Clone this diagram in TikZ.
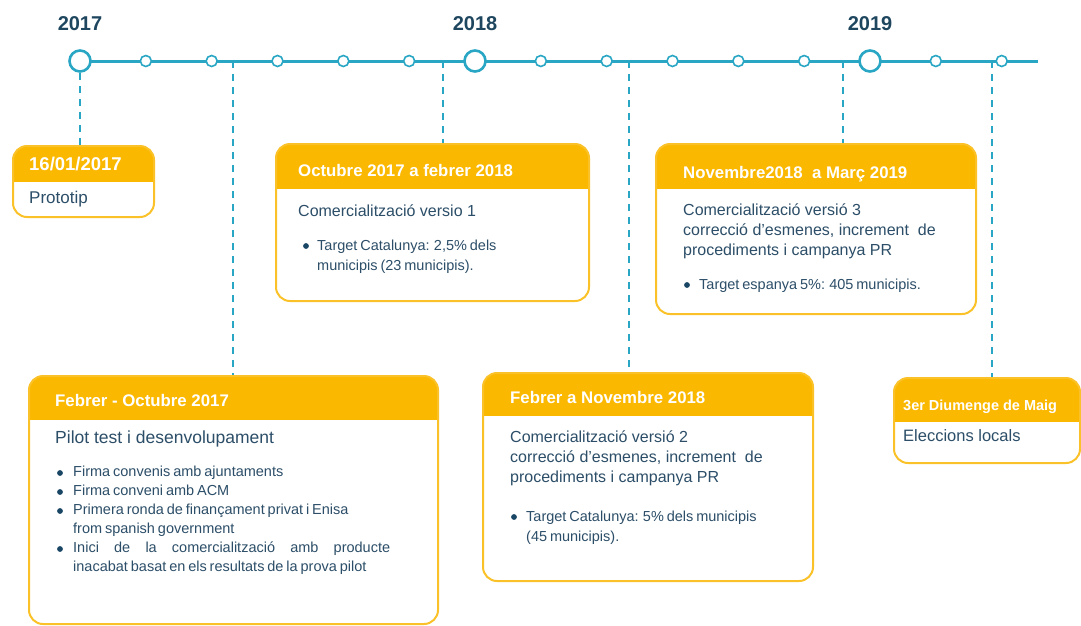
\documentclass[tikz,border=0pt]{standalone}
\usepackage{fontspec}
\setmainfont{Liberation Sans}
\usetikzlibrary{calc}
\definecolor{tlblue}{RGB}{41,166,196}
\definecolor{hdyellow}{RGB}{251,184,0}
\definecolor{bdyellow}{RGB}{250,194,40}
\definecolor{txtdark}{RGB}{44,78,104}
\definecolor{yeardark}{RGB}{30,70,95}
\definecolor{dotdark}{RGB}{25,70,100}
\newcommand\tbox[6]{\node[tlbox, anchor=north west, minimum width={(#4)-(#2)}, minimum height={(#5)-(#3)},
  path picture={\fill[hdyellow, sharp corners] (path picture bounding box.north west) rectangle ([yshift={-((#6)-(#3))*1pt}]path picture bounding box.north east);}] (#1) at (#2,#3) {};}
\newcommand\tline[5]{\node[anchor=base west, inner sep=0pt, #4] (#1) at (#2,#3) {#5};}
\newcommand\tdot[2]{\fill[dotdark] (#1,#2) circle (2.9);}
\newcommand\tightsp{\spaceskip=0.2em plus 1em\relax}
\begin{document}
\begin{tikzpicture}[x=1pt,y=-1pt,
  tl/.style={draw=tlblue, line width=3pt},
  bigdot/.style={circle, draw=tlblue, fill=white, line width=2.6pt, minimum size=21pt, inner sep=0pt},
  smalldot/.style={circle, draw=tlblue, fill=white, line width=1.6pt, minimum size=11pt, inner sep=0pt},
  yearlbl/.style={font=\bfseries\fontsize{20}{24}\selectfont, text=yeardark},
  conn/.style={draw=tlblue, line width=1.8pt, dash pattern=on 7pt off 6pt},
  tlbox/.style={rectangle, rounded corners=14pt, draw=bdyellow, line width=2pt, fill=white, inner sep=0pt},
  hdr/.style={font=\bfseries\fontsize{16.8}{20}\selectfont, text=white},
  bod/.style={font=\fontsize{16}{20}\selectfont, text=txtdark},
  bul/.style={font=\fontsize{14.5}{18}\selectfont\tightsp, text=txtdark}
]
\useasboundingbox (0,0) rectangle (1081,625);
% timeline
\coordinate (tlstart) at (80,61);
\coordinate (tlend) at (1038,61);
\draw[tl] (tlstart) -- (tlend);
\node[bigdot] (c2017) at (80,61) {};
\node[bigdot] (c2018) at (475,61) {};
\node[bigdot] (c2019) at (870,61) {};
\foreach \i in {1,...,5} {
  \node[smalldot] (sa\i) at ({80+\i*65.8333},61) {};
  \node[smalldot] (sb\i) at ({475+\i*65.8333},61) {};
}
\node[smalldot] (sc1) at (935.8,61) {};
\node[smalldot] (sc2) at (1001.7,61) {};
\node[yearlbl] (y2017) at (80,24) {2017};
\node[yearlbl] (y2018) at (475,24) {2018};
\node[yearlbl] (y2019) at (870,24) {2019};
% boxes
\tbox{b1}{12}{145}{153}{216}{181}
\tbox{b2}{275}{143}{588}{300}{188}
\tbox{b3}{655}{143}{975}{313}{188}
\tbox{b4}{28}{375}{437}{623}{419}
\tbox{b5}{482}{372}{812}{580}{415}
\tbox{b6}{893}{377}{1079}{462}{421}
% box 1
\tline{b1h}{29}{170}{hdr, font=\bfseries\fontsize{18.5}{20}\selectfont}{16/01/2017}
\tline{b1a}{29}{203}{bod, font=\fontsize{17}{20}\selectfont}{Prototip}
% box 2
\tline{b2h}{298}{176}{hdr}{Octubre 2017 a febrer 2018}
\tline{b2a}{298}{216}{bod}{Comercialització versio 1}
\tdot{306}{246}
\tline{b2b}{317}{250}{bul}{Target Catalunya: 2,5\% dels}
\tline{b2c}{317}{270}{bul}{municipis (23 municipis).}
% box 3
\tline{b3h}{683}{178}{hdr}{Novembre2018~ a Març 2019}
\tline{b3a}{683}{215}{bod}{Comercialització versió 3}
\tline{b3b}{683}{235}{bod}{correcció d’esmenes, increment~ de}
\tline{b3c}{683}{255}{bod}{procediments i campanya PR}
\tdot{687}{285}
\tline{b3d}{699}{289}{bul}{Target espanya 5\%: 405 municipis.}
% box 4
\tline{b4h}{55}{406}{hdr}{Febrer - Octubre 2017}
\tline{b4a}{55}{443}{bod, font=\fontsize{17.5}{20}\selectfont}{Pilot test i desenvolupament}
\tdot{60}{473}
\tline{b4b}{73}{476}{bul}{Firma convenis amb ajuntaments}
\tdot{60}{492}
\tline{b4c}{73}{495}{bul}{Firma conveni amb ACM}
\tdot{60}{511}
\tline{b4d}{73}{514}{bul}{Primera ronda de finançament privat i Enisa}
\tline{b4e}{73}{533}{bul}{from spanish government}
\tdot{60}{549}
\tline{b4f}{73}{552}{bul}{\makebox[317pt][s]{Inici de la comercialització amb producte}}
\tline{b4g}{73}{571}{bul}{inacabat basat en els resultats de la prova pilot}
% box 5
\tline{b5h}{510}{403}{hdr}{Febrer a Novembre 2018}
\tline{b5a}{510}{442}{bod}{Comercialització versió 2}
\tline{b5b}{510}{462}{bod}{correcció d’esmenes, increment~ de}
\tline{b5c}{510}{482}{bod}{procediments i campanya PR}
\tdot{514}{517}
\tline{b5d}{526}{521}{bul}{Target Catalunya: 5\% dels municipis}
\tline{b5e}{526}{541}{bul}{(45 municipis).}
% box 6
\tline{b6h}{903}{410}{hdr, font=\bfseries\fontsize{14.5}{18}\selectfont}{3er Diumenge de Maig}
\tline{b6a}{903}{441}{bod, font=\fontsize{16.5}{20}\selectfont}{Eleccions locals}
% connectors
\coordinate (k1) at (233,61);
\coordinate (k2) at (443,61);
\coordinate (k3) at (629,61);
\coordinate (k4) at (843,61);
\coordinate (k5) at (992,61);
\draw[conn] (c2017.south) -- (c2017.south |- b1.north);
\draw[conn] (k1) -- (k1 |- b4.north);
\draw[conn] (k2) -- (k2 |- b2.north);
\draw[conn] (k3) -- (k3 |- b5.north);
\draw[conn] (k4) -- (k4 |- b3.north);
\draw[conn] (k5) -- (k5 |- b6.north);
\end{tikzpicture}
\end{document}
